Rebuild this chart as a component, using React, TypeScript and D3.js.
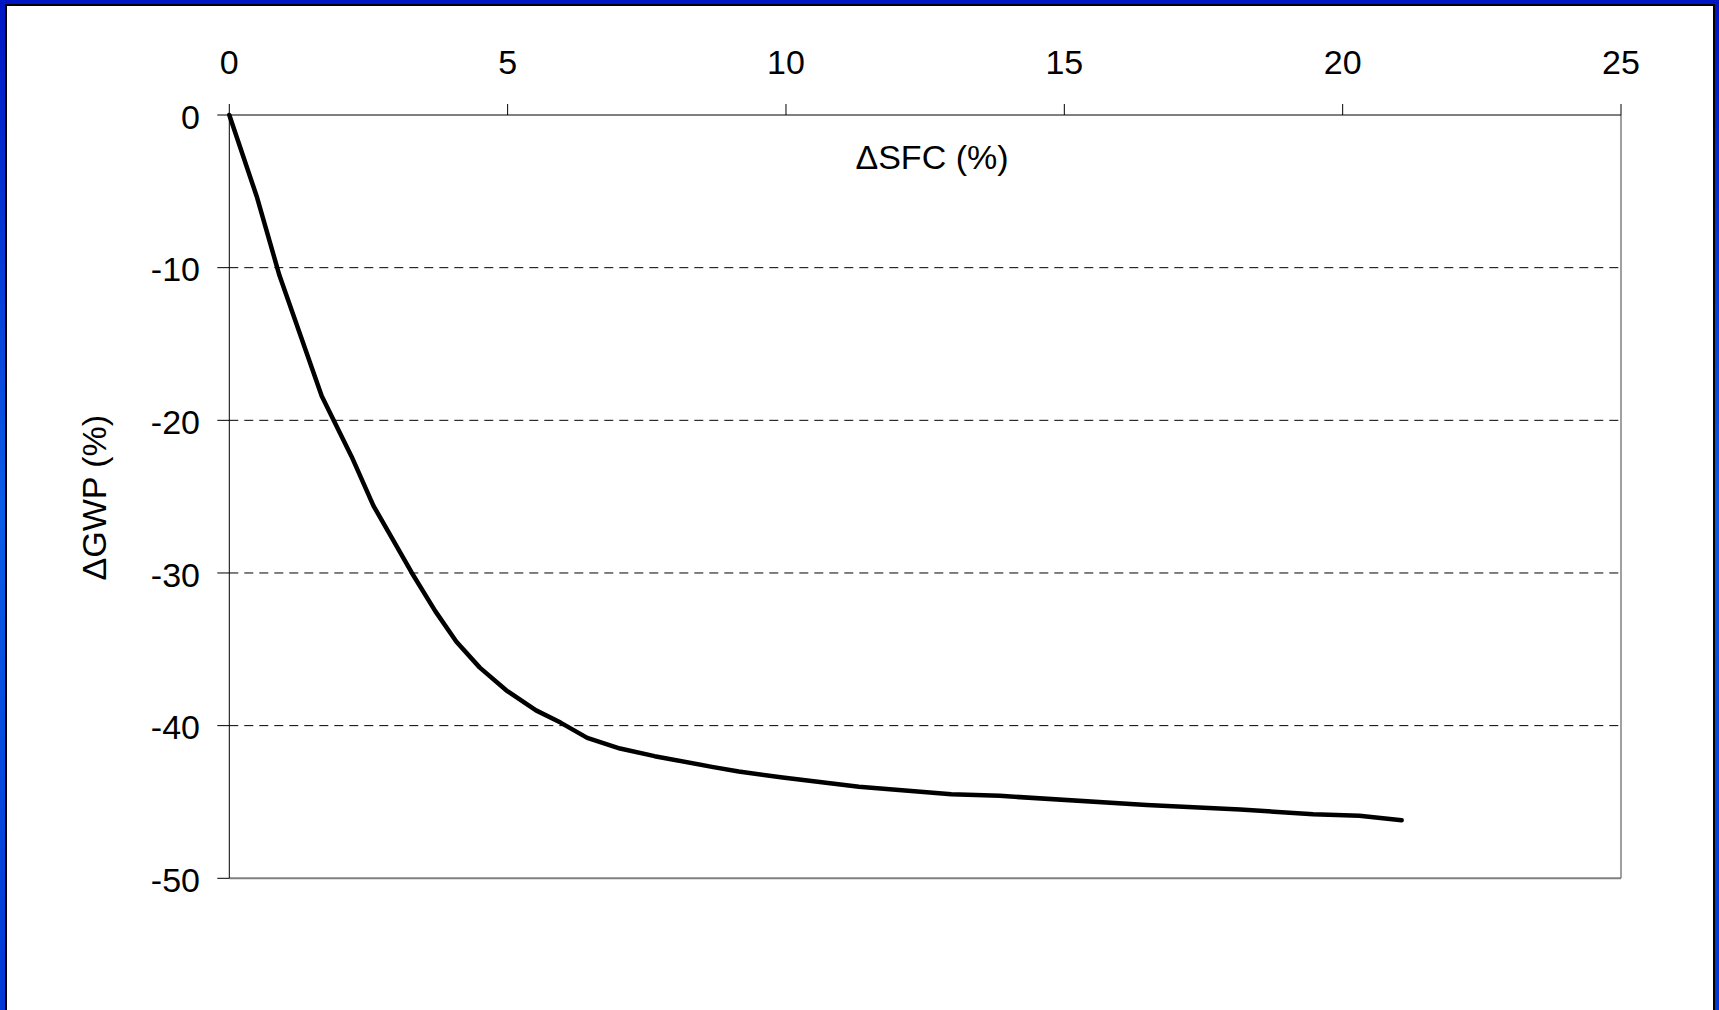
import React from "react";
import * as d3 from "d3";

const sfc = [0, 0.49, 0.9, 1.66, 2.2, 2.59, 2.92, 3.28, 3.7, 4.08, 4.5, 4.98, 5.51, 5.95, 6.43, 7.02, 7.64, 8.67, 9.15, 9.94, 11.31, 12.97, 13.84, 16.48, 18.16, 19.47, 20.3, 21.06];
const gwp = [0, -5.3, -10.5, -18.4, -22.4, -25.6, -27.7, -30.0, -32.5, -34.5, -36.2, -37.7, -39.0, -39.8, -40.8, -41.5, -42.0, -42.7, -43.0, -43.4, -44.0, -44.5, -44.6, -45.2, -45.5, -45.8, -45.9, -46.2];
const xTicks = [0, 5, 10, 15, 20, 25];
const yTicks = [0, -10, -20, -30, -40, -50];
const gridValues = [-10, -20, -30, -40];
const xLabel = "\u0394SFC (%)";
const yLabel = "\u0394GWP (%)";

const W = 1719;
const H = 1010;
const FONT = "'Liberation Sans', Arial, Helvetica, sans-serif";

export default function App() {
  const x = d3.scaleLinear().domain([0, 25]).range([229.3, 1621]);
  const y = d3.scaleLinear().domain([0, -50]).range([115, 878.3]);
  const pts: [number, number][] = sfc.map((v, i) => [v, gwp[i]]);
  const line = d3
    .line<[number, number]>()
    .x((d) => x(d[0]))
    .y((d) => y(d[1]));

  const left = x(0);
  const right = x(25);
  const top = y(0);
  const bottom = y(-50);

  return (
    <svg
      width={W}
      height={H}
      style={{ position: "absolute", left: 0, top: 0, display: "block" }}
      xmlns="http://www.w3.org/2000/svg"
    >
      <defs>
        <linearGradient id="frame" x1="0" y1="0" x2="0" y2="1">
          <stop offset="0%" stopColor="#0016c4" />
          <stop offset="50%" stopColor="#0a5ce6" />
          <stop offset="100%" stopColor="#0038d6" />
        </linearGradient>
      </defs>
      <rect x={0} y={0} width={W} height={H} fill="url(#frame)" />
      <rect x={5} y={4} width={1710} height={H + 10} fill="#000" />
      <rect x={7} y={6} width={1706} height={H + 10} fill="#fff" />

      {gridValues.map((g) => (
        <line
          key={g}
          x1={left}
          x2={right}
          y1={y(g)}
          y2={y(g)}
          stroke="#000"
          strokeWidth={1}
          strokeDasharray="9,6"
        />
      ))}

      <line x1={right} x2={right} y1={top} y2={bottom} stroke="#808080" strokeWidth={1.5} />
      <line x1={left} x2={right} y1={bottom} y2={bottom} stroke="#808080" strokeWidth={2} />

      <line x1={left} x2={right} y1={top} y2={top} stroke="#000" strokeWidth={1} />
      <line x1={left} x2={left} y1={top} y2={bottom} stroke="#000" strokeWidth={1} />

      {xTicks.map((t) => (
        <g key={"x" + t}>
          <line x1={x(t)} x2={x(t)} y1={top - 11} y2={top} stroke="#000" strokeWidth={1} />
          <text x={x(t)} y={74} textAnchor="middle" fontFamily={FONT} fontSize={34} fill="#000">
            {t}
          </text>
        </g>
      ))}

      {yTicks.map((t) => (
        <g key={"y" + t}>
          <line x1={left - 12} x2={left} y1={y(t)} y2={y(t)} stroke="#000" strokeWidth={1} />
          <text x={200} y={y(t) + 13.6} textAnchor="end" fontFamily={FONT} fontSize={34} fill="#000">
            {t}
          </text>
        </g>
      ))}

      <text x={932} y={169} textAnchor="middle" fontFamily={FONT} fontSize={34} fill="#000">
        {xLabel}
      </text>
      <text
        transform={`translate(106, ${(top + bottom) / 2 + 1}) rotate(-90)`}
        textAnchor="middle"
        fontFamily={FONT}
        fontSize={34}
        fill="#000"
      >
        {yLabel}
      </text>

      <path
        d={line(pts) || ""}
        fill="none"
        stroke="#000"
        strokeWidth={4.5}
        strokeLinejoin="round"
        strokeLinecap="round"
      />
    </svg>
  );
}
